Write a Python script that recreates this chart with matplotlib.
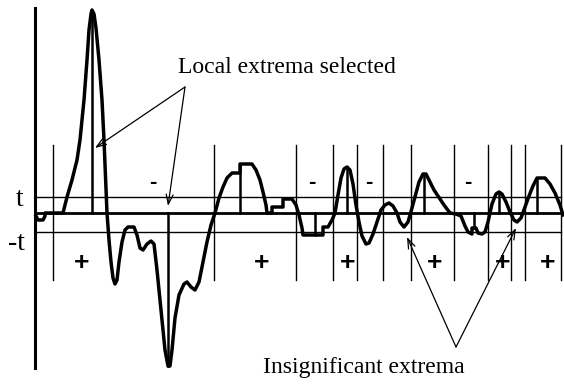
import matplotlib
matplotlib.use('Agg')
import matplotlib.pyplot as plt
import numpy as np

# Signal samples: position and amplitude (baseline = 0)
sig_x = [36, 38, 43, 45, 45, 63, 65, 67, 72, 77, 80, 84, 87, 89, 91, 92, 94, 96, 99, 102,
         104, 106, 107, 109, 111, 113, 115, 117, 119, 122, 125, 128, 134, 137, 140, 143, 147,
         151, 154, 157, 161, 165, 168, 170, 172, 175, 179, 184, 187, 191, 195, 199, 203, 207,
         211, 215, 219, 223, 227, 232, 240, 240, 252, 256, 260, 263, 266, 267, 272, 272, 283,
         283, 292, 296, 299, 302, 303, 323, 323, 328, 332, 335, 338, 341, 344, 347, 350, 353,
         356, 359, 362, 366, 369, 373, 377, 381, 385, 389, 393, 397, 400, 404, 408, 412, 415,
         419, 423, 426, 430, 434, 438, 444, 450, 456, 461, 465, 468, 472, 472, 476, 478, 482,
         485, 488, 492, 496, 499, 502, 506, 510, 514, 517, 521, 525, 529, 533, 537, 545, 550,
         555, 560, 563]
sig_y = [-3, -7, -7, -3, 0, 0, 8, 16, 33, 53, 73, 113, 153, 183, 199, 203, 199, 185, 153, 113,
         73, 26, 0, -27, -49, -65, -71, -67, -49, -29, -17, -14, -14, -22, -35, -37, -31,
         -28, -31, -57, -97, -137, -153, -153, -137, -105, -82, -71, -69, -74, -77, -69, -49, -29,
         -12, 0, 15, 26, 35, 40, 40, 49, 49, 43, 33, 21, 8, 0, 0, 6, 6,
         14, 14, 8, -2, -15, -22, -22, -14, -14, -7, 0, 18, 35, 44, 46, 43, 29,
         8, -9, -23, -31, -30, -21, -9, 3, 8, 10, 7, 0, -9, -14, -9, 5, 16,
         31, 39, 39, 31, 23, 17, 8, 0, -1, -3, -13, -19, -21, -15, -15, -20, -21,
         -19, -9, 9, 19, 21, 19, 11, 1, -7, -9, -5, 6, 17, 27, 35, 35, 29,
         20, 8, -2]

# Selected local extrema (position, amplitude)
ext_x = [92, 168, 240, 315, 347, 424, 474, 499, 537]
ext_y = [201, -153, 49, -22, 46, 39, -15, 21, 35]

# Segment boundaries
bounds = [53, 214, 296, 333, 357, 383, 411, 454, 488, 511, 525, 561]

t_pos = 16
t_neg = -19

plus_x = [82, 262, 348, 435, 503, 548]
minus_x = [153, 312, 369, 468]

fig = plt.figure(figsize=(5.64, 3.85), dpi=100)
ax = fig.add_axes([0, 0, 1, 1])
ax.set_xlim(0, 564)
ax.set_ylim(-172, 213)
ax.axis('off')

x0, x1 = 35, 561
# threshold lines and baseline
ax.plot([x0, x1], [t_pos, t_pos], 'k-', lw=1.0)
ax.plot([x0, x1], [t_neg, t_neg], 'k-', lw=1.0)
ax.plot([x0, x1], [0, 0], 'k-', lw=2.0)
# vertical axis
ax.plot([x0, x0], [-155, 205], 'k-', lw=2.2)

# segment boundaries
for b in bounds:
    ax.plot([b, b], [-67, 68], 'k-', lw=1.0)

# stems at the selected extrema
for ex, ey in zip(ext_x, ext_y):
    ax.plot([ex, ex], [0, ey], 'k-', lw=1.8)

ax.plot(sig_x, sig_y, 'k-', lw=2.5, solid_joinstyle='round')

serif = 'Liberation Serif'
ax.text(20, 13, 't', fontsize=20, family=serif, ha='center', va='center')
ax.text(16, -30, '-t', fontsize=20, family=serif, ha='center', va='center')

for px in plus_x:
    ax.text(px, -50, '+', fontsize=19, fontweight='bold', family='Liberation Sans',
            ha='center', va='center')
for mx in minus_x:
    ax.text(mx, 30, '-', fontsize=16, fontweight='bold', family='Liberation Sans',
            ha='center', va='center')

arrow = dict(arrowstyle='->,head_length=0.7,head_width=0.25', lw=0.9, color='k',
             shrinkA=0, shrinkB=0)
ax.text(287, 140, 'Local extrema selected', fontsize=17, family=serif,
        ha='center', va='baseline')
for tx, ty in [(95, 65), (168, 7)]:
    ax.annotate('', xy=(tx, ty), xytext=(185, 126), arrowprops=arrow)

ax.text(364, -160, 'Insignificant extrema', fontsize=17, family=serif,
        ha='center', va='baseline')
for tx, ty in [(407, -24), (516, -15)]:
    ax.annotate('', xy=(tx, ty), xytext=(456, -134), arrowprops=arrow)

fig.savefig('out.png', dpi=100)
